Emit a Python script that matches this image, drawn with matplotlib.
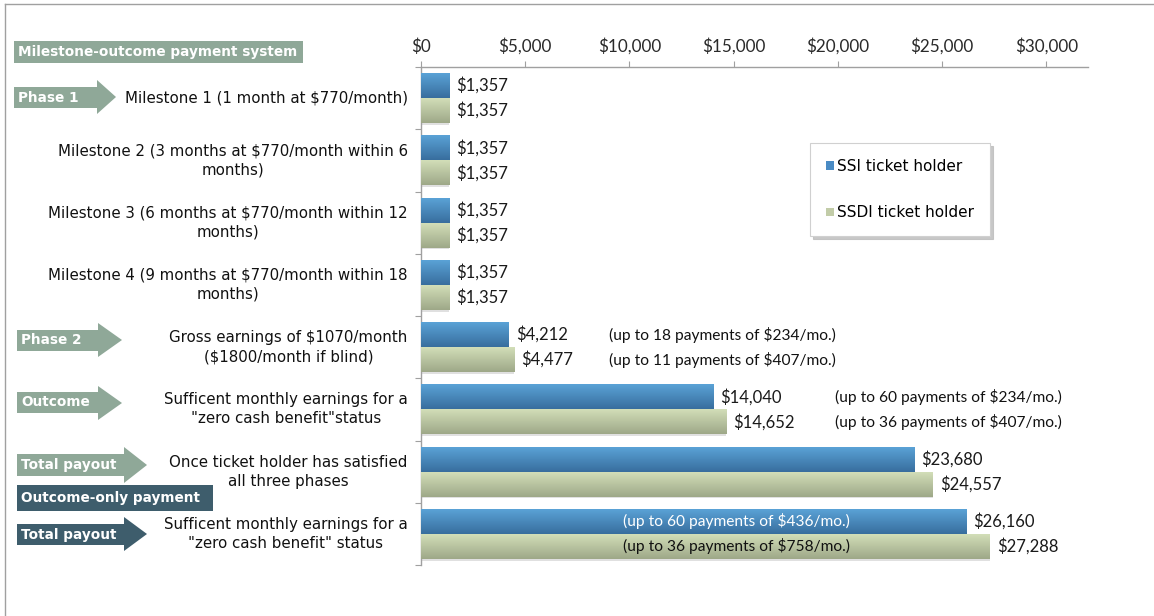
import matplotlib
matplotlib.use("Agg")
import matplotlib.pyplot as plt
import numpy as np
from matplotlib.patches import Polygon, Rectangle
from matplotlib.lines import Line2D

# ---------------- data ----------------
categories = [
    "Milestone 1 (1 month at $770/month)",
    "Milestone 2 (3 months at $770/month within 6\nmonths)",
    "Milestone 3 (6 months at $770/month within 12\nmonths)",
    "Milestone 4 (9 months at $770/month within 18\nmonths)",
    "Gross earnings of $1070/month\n($1800/month if blind)",
    "Sufficent monthly earnings for a\n\"zero cash benefit\"status",
    "Once ticket holder has satisfied\nall three phases",
    "Sufficent monthly earnings for a\n\"zero cash benefit\" status",
]
ssi_values = [1357, 1357, 1357, 1357, 4212, 14040, 23680, 26160]
ssdi_values = [1357, 1357, 1357, 1357, 4477, 14652, 24557, 27288]
series_names = ["SSI ticket holder", "SSDI ticket holder"]
ssi_notes = ["", "", "", "", "(up to 18 payments of $234/mo.)",
             "(up to 60 payments of $234/mo.)", "", "(up to 60 payments of $436/mo.)"]
ssdi_notes = ["", "", "", "", "(up to 11 payments of $407/mo.)",
              "(up to 36 payments of $407/mo.)", "", "(up to 36 payments of $758/mo.)"]
x_ticks = [0, 5000, 10000, 15000, 20000, 25000, 30000]
x_tick_labels = ["$0", "$5,000", "$10,000", "$15,000", "$20,000", "$25,000", "$30,000"]
header_text = "Milestone-outcome payment system"
outcome_only_text = "Outcome-only payment"
phase_labels = ["Phase 1", "Phase 2", "Outcome", "Total payout", "Total payout"]

# ---------------- layout ----------------
W, H = 1154, 616
fig = plt.figure(figsize=(W / 100, H / 100), dpi=100)
fig.patch.set_facecolor("white")

def fx(x):
    return x / W

def fy(y):
    return 1 - y / H

ax = fig.add_axes([fx(421), fy(565), fx(1088) - fx(421), fy(67) - fy(565)])

n = len(categories)
ypos = np.arange(n)
bh = 0.40
blue_top, blue_bot = np.array([90, 162, 214]) / 255, np.array([56, 110, 158]) / 255
green_top, green_bot = np.array([210, 222, 184]) / 255, np.array([158, 168, 136]) / 255
blue_solid = "#4a8bc4"
green_solid = "#c2cca8"

# shadows
ax.barh(ypos - 0.2 + 0.03, ssi_values, height=bh, color="#000000", alpha=0.10, zorder=1)
ax.barh(ypos + 0.2 + 0.03, ssdi_values, height=bh, color="#000000", alpha=0.12, zorder=1)
b1 = ax.barh(ypos - 0.2, ssi_values, height=bh, color=blue_solid, zorder=2)
b2 = ax.barh(ypos + 0.2, ssdi_values, height=bh, color=green_solid, zorder=2)

XMAX = 32000
ax.set_xlim(0, XMAX)
ax.set_ylim(n - 0.5, -0.5)

def grad_fill(bars, ctop, cbot):
    g = np.linspace(0, 1, 64)[:, None, None]
    img = ctop[None, None, :] * (1 - g) + cbot[None, None, :] * g
    for b in bars:
        x0, y0, w, h = b.get_x(), b.get_y(), b.get_width(), b.get_height()
        im = ax.imshow(img, extent=[x0, x0 + w, y0 + h, y0], aspect="auto",
                       zorder=3, interpolation="bilinear")
        im.set_clip_path(b)

grad_fill(b1, blue_top, blue_bot)
grad_fill(b2, green_top, green_bot)
ax.set_xlim(0, XMAX)
ax.set_ylim(n - 0.5, -0.5)

# axes styling
for s in ["right", "bottom"]:
    ax.spines[s].set_visible(False)
for s in ["left", "top"]:
    ax.spines[s].set_color("#a0a0a0")
    ax.spines[s].set_linewidth(1.0)
ax.xaxis.tick_top()
ax.set_xticks(x_ticks)
ax.set_xticklabels(x_tick_labels, fontsize=12.3, family="Lato", color="#2a2a2a")
ax.tick_params(axis="x", length=4, color="#a0a0a0", pad=5)
ax.set_yticks(np.arange(-0.5, n, 1.0))
ax.set_yticklabels([])
ax.tick_params(axis="y", length=4, color="#a0a0a0")

# value labels
for i in range(n):
    ax.annotate(f"${ssi_values[i]:,}", (ssi_values[i], i - 0.2), xytext=(5, 0),
                textcoords="offset points", va="center", ha="left", fontsize=12,
                family="Lato", color="#1a1a1a", zorder=5)
    ax.annotate(f"${ssdi_values[i]:,}", (ssdi_values[i], i + 0.2), xytext=(5, 0),
                textcoords="offset points", va="center", ha="left", fontsize=12,
                family="Lato", color="#1a1a1a", zorder=5)

# notes
note_x = {4: 9000, 5: 19850}
nfs = 11.2
for i, xv in note_x.items():
    ax.text(xv, i - 0.2, ssi_notes[i], va="center", ha="left", fontsize=nfs,
            family="Lato", color="#111111")
    ax.text(xv, i + 0.2, ssdi_notes[i], va="center", ha="left", fontsize=nfs,
            family="Lato", color="#111111")
ax.text(15150, 7 - 0.2, ssi_notes[7], va="center", ha="center", fontsize=nfs,
        family="Lato", color="white", zorder=5)
ax.text(15150, 7 + 0.2, ssdi_notes[7], va="center", ha="center", fontsize=nfs,
        family="Lato", color="#111111", zorder=5)

# category labels (right-aligned left of axis)
for i, c in enumerate(categories):
    ax.annotate(c, (0, i), xytext=(-9.5, 0), textcoords="offset points",
                ha="right", va="center", fontsize=10.8, family="DejaVu Sans",
                color="#111111", multialignment="center", linespacing=1.35,
                annotation_clip=False)

# legend
legend_handles = [Rectangle((0, 0), 1, 1, facecolor=blue_solid),
                  Rectangle((0, 0), 1, 1, facecolor=green_solid)]
leg = fig.legend(legend_handles, series_names, loc="upper left",
                 bbox_to_anchor=(fx(810), fy(143)), borderaxespad=0.0,
                 frameon=True, fancybox=False,
                 shadow={"color": "#bbbbbb", "alpha": 0.8},
                 edgecolor="#d0d0d0", labelspacing=2.05, borderpad=1.05,
                 handlelength=0.5, handleheight=0.5, handletextpad=0.2,
                 prop={"family": "DejaVu Sans", "size": 11})
leg.get_frame().set_linewidth(0.8)

# left boxes and arrows
light = "#8fa898"
dark = "#3e5d6c"
bfs = 9.8

def box(x0, y0, x1, y1, color, text):
    fig.patches.append(Rectangle((fx(x0), fy(y1)), fx(x1) - fx(x0), fy(y0) - fy(y1),
                                 transform=fig.transFigure, facecolor=color,
                                 edgecolor="none", zorder=1))
    fig.text(fx(x0 + 4), fy((y0 + y1) / 2), text, ha="left", va="center",
             color="white", fontsize=bfs, fontweight="bold", family="DejaVu Sans")

def arrow(x0, xb, x1, yt, yb, ht, hb, color, text):
    pts = [(x0, yt), (xb, yt), (xb, ht), (x1, (ht + hb) / 2), (xb, hb), (xb, yb), (x0, yb)]
    pts = [(fx(a), fy(b)) for a, b in pts]
    fig.patches.append(Polygon(pts, closed=True, transform=fig.transFigure,
                               facecolor=color, edgecolor="none", zorder=1))
    fig.text(fx(x0 + 4), fy((yt + yb) / 2), text, ha="left", va="center",
             color="white", fontsize=bfs, fontweight="bold", family="DejaVu Sans")

box(14, 41, 303, 63, light, header_text)
arrow(14, 97, 116, 87, 108, 80, 114, light, phase_labels[0])
arrow(17, 98, 122, 330, 351, 323, 357, light, phase_labels[1])
arrow(17, 98, 122, 392, 413, 386, 420, light, phase_labels[2])
arrow(17, 124, 147, 454, 476, 447, 483, light, phase_labels[3])
box(17, 485, 213, 511, dark, outcome_only_text)
arrow(17, 124, 147, 524, 545, 517, 551, dark, phase_labels[4])

# frame lines of the original slide
fig.add_artist(Line2D([fx(5), fx(5)], [0, fy(4)], transform=fig.transFigure,
                      color="#a0a0a0", lw=1))
fig.add_artist(Line2D([fx(5), 1], [fy(4), fy(4)], transform=fig.transFigure,
                      color="#a0a0a0", lw=1))

fig.savefig("out.png", dpi=100)
